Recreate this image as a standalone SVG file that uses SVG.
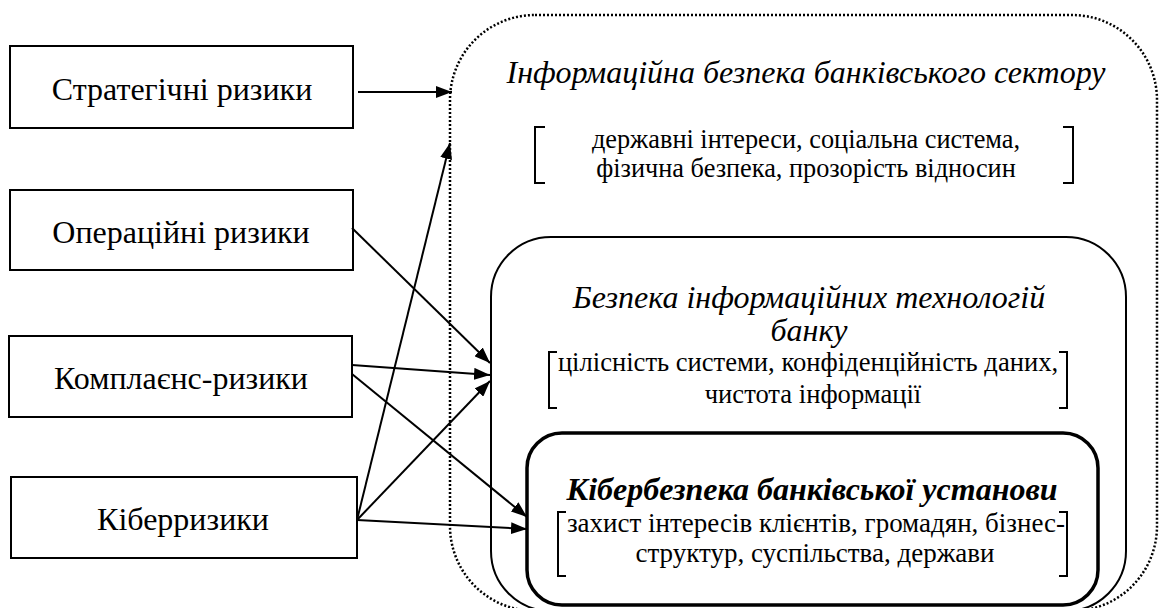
<svg xmlns="http://www.w3.org/2000/svg" width="1159" height="608" viewBox="0 0 1159 608">
<defs>
<marker id="ah" markerUnits="userSpaceOnUse" markerWidth="16" markerHeight="12" refX="16" refY="6" orient="auto">
<path d="M0,0 L16,6 L0,12 z" fill="#000"/>
</marker>
</defs>
<rect width="1159" height="608" fill="#fff"/>
<g id="outer">
<rect x="450" y="15" width="707" height="596" rx="85" ry="85" fill="none" stroke="#000" stroke-width="2.5" stroke-dasharray="2 2"/>
<text x="806" y="83" text-anchor="middle" style="font-family:'Liberation Serif',serif;font-size:32px;font-style:italic">Інформаційна безпека банківського сектору</text>
<path d="M545,127 H535 V183 H545 M1063,127 H1073 V183 H1063" fill="none" stroke="#000" stroke-width="2"/>
<text x="806" y="148" text-anchor="middle" style="font-family:'Liberation Serif',serif;font-size:26.3px">державні інтереси, соціальна система,</text>
<text x="806" y="177" text-anchor="middle" style="font-family:'Liberation Serif',serif;font-size:26.3px">фізична безпека, прозорість відносин</text>
</g>
<g id="it-box">
<rect x="491" y="237" width="635" height="374" rx="60" ry="60" fill="none" stroke="#000" stroke-width="2"/>
<text x="809" y="308" text-anchor="middle" style="font-family:'Liberation Serif',serif;font-size:32px;font-style:italic">Безпека інформаційних технологій</text>
<text x="809" y="341" text-anchor="middle" style="font-family:'Liberation Serif',serif;font-size:32px;font-style:italic">банку</text>
<path d="M557,352 H549 V408 H557 M1059,352 H1067 V408 H1059" fill="none" stroke="#000" stroke-width="2"/>
<text x="808" y="371" text-anchor="middle" style="font-family:'Liberation Serif',serif;font-size:26.6px">цілісність системи, конфіденційність даних,</text>
<text x="813" y="403" text-anchor="middle" style="font-family:'Liberation Serif',serif;font-size:26.6px">чистота інформації</text>
</g>
<g id="cyber-box">
<rect x="527" y="433" width="571" height="172" rx="35" ry="35" fill="none" stroke="#000" stroke-width="3.5"/>
<text x="812" y="500" text-anchor="middle" style="font-family:'Liberation Serif',serif;font-size:32px;font-style:italic;font-weight:bold">Кібербезпека банківської установи</text>
<path d="M566,512 H558 V576 H566 M1059,512 H1067 V576 H1059" fill="none" stroke="#000" stroke-width="2"/>
<text x="816" y="532" text-anchor="middle" style="font-family:'Liberation Serif',serif;font-size:27px">захист інтересів клієнтів, громадян, бізнес-</text>
<text x="815" y="562" text-anchor="middle" style="font-family:'Liberation Serif',serif;font-size:27px">структур, суспільства, держави</text>
</g>
<g id="strategic">
<rect x="10" y="46" width="343" height="82" fill="#fff" stroke="#000" stroke-width="2"/>
<text x="182" y="100" text-anchor="middle" style="font-family:'Liberation Serif',serif;font-size:32px">Стратегічні ризики</text>
</g>
<g id="operational">
<rect x="10" y="190" width="343" height="80" fill="#fff" stroke="#000" stroke-width="2"/>
<text x="181" y="243" text-anchor="middle" style="font-family:'Liberation Serif',serif;font-size:32px">Операційні ризики</text>
</g>
<g id="compliance">
<rect x="9" y="336" width="343" height="81" fill="#fff" stroke="#000" stroke-width="2"/>
<text x="181" y="389" text-anchor="middle" style="font-family:'Liberation Serif',serif;font-size:32px">Комплаєнс-ризики</text>
</g>
<g id="cyber">
<rect x="11" y="477" width="346" height="81" fill="#fff" stroke="#000" stroke-width="2"/>
<text x="183" y="530" text-anchor="middle" style="font-family:'Liberation Serif',serif;font-size:32px">Кіберризики</text>
</g>
<g id="connectors" fill="none" stroke="#000" stroke-width="2" marker-end="url(#ah)">
<line x1="358" y1="92" x2="452" y2="92"/>
<line x1="352" y1="228" x2="490" y2="363"/>
<line x1="352" y1="365" x2="490" y2="375"/>
<line x1="352" y1="374" x2="527" y2="517"/>
<line x1="357" y1="520" x2="450" y2="143"/>
<line x1="357" y1="520" x2="490" y2="381"/>
<line x1="357" y1="520" x2="527" y2="529"/>
</g>
</svg>
